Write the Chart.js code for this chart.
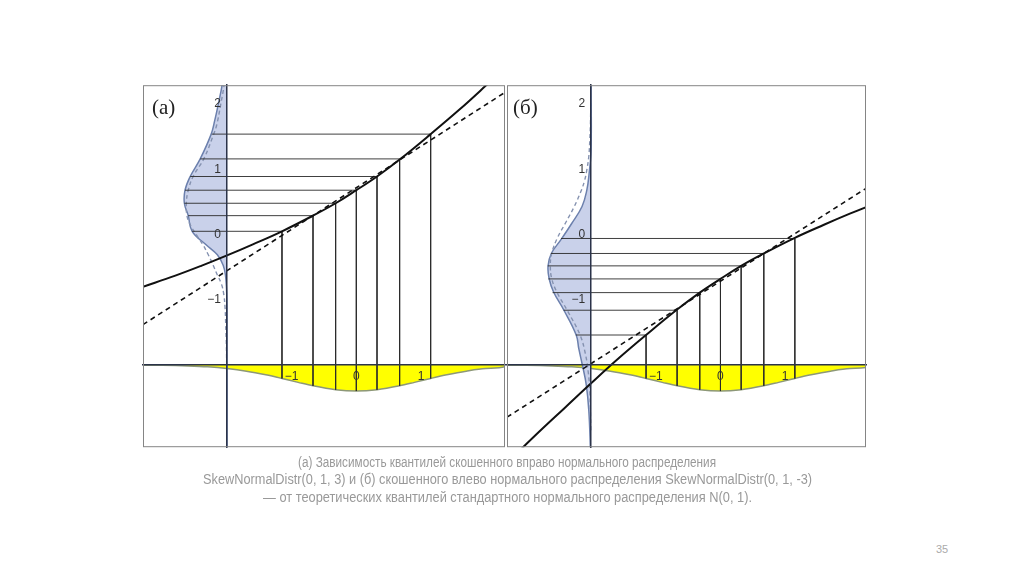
<!DOCTYPE html>
<html>
<head>
<meta charset="utf-8">
<script src="https://cdn.jsdelivr.net/npm/chart.js@4.4.0/dist/chart.umd.min.js"></script>
<style>
body { margin: 0; background: #fff; width: 1024px; height: 576px; position: relative; overflow: hidden; }
canvas { position: absolute; }
.panelLabel { position: absolute; top: 97px; font-family: "Liberation Serif", "Times New Roman", serif; font-size: 21px; line-height: 21px; color: #222; }
.capLine { position: absolute; white-space: nowrap; font-family: "Liberation Sans", Arial, sans-serif; font-size: 14px; line-height: 17px; color: #999; transform-origin: 0 0; }
.pageNum { position: absolute; left: 936px; top: 543px; font-family: "Liberation Sans", Arial, sans-serif; font-size: 11px; color: #aaa; }
</style>
</head>
<body>
<canvas id="chartA" width="364" height="362"></canvas>
<canvas id="chartB" width="361" height="362"></canvas>
<div class="panelLabel" style="left:152px">(а)</div>
<div class="panelLabel" style="left:513px">(б)</div>
<div class="capLine" id="cap1">(а) Зависимость квантилей скошенного вправо нормального распределения</div>
<div class="capLine" id="cap2">SkewNormalDistr(0, 1, 3) и (б) скошенного влево нормального распределения SkewNormalDistr(0, 1, -3)</div>
<div class="capLine" id="cap3">— от теоретических квантилей стандартного нормального распределения N(0, 1).</div>
<div class="pageNum">35</div>
<script>
// axes cross at (-2, -2) in both panels
var AXIS = -2;
var xTicks = [-1, 0, 1];
var yTicks = [-1, 0, 1, 2];

// theoretical quantiles of N(0, 1) (octiles) and the N(0,1) density there
var quantX = [-1.15, -0.67, -0.32, 0, 0.32, 0.67, 1.15];
var quantPdf = [0.206, 0.319, 0.379, 0.399, 0.379, 0.319, 0.206];

// sample quantiles, panel (а) and (б)
var quantYA = [0.05, 0.29, 0.48, 0.68, 0.89, 1.16, 1.54];
var quantYB = [-1.54, -1.16, -0.89, -0.68, -0.48, -0.29, -0.06];
// left ends of the horizontal lines (where they meet the skewed density)
var hLeftA = [-2.54, -2.6, -2.66, -2.65, -2.57, -2.415, -2.235];
var hLeftB = [-2.235, -2.425, -2.595, -2.66, -2.67, -2.62, -2.465];

// Q-Q curves
var curveXA = [-3.3, -2.8, -2.4, -2.0, -1.6, -1.15, -0.67, -0.32, 0, 0.32, 0.67, 1.15, 1.6, 2.0, 2.4];
var curveYA = [-0.80, -0.63, -0.48, -0.32, -0.15, 0.05, 0.29, 0.48, 0.68, 0.89, 1.15, 1.54, 1.92, 2.28, 2.65];
var curveXB = [-3.3, -2.8, -2.4, -2.0, -1.6, -1.15, -0.67, -0.32, 0, 0.32, 0.67, 1.15, 1.6, 2.0, 2.4];
var curveYB = [-3.5, -3.02, -2.65, -2.28, -1.92, -1.54, -1.15, -0.89, -0.68, -0.48, -0.29, -0.05, 0.15, 0.32, 0.48];

// dashed reference lines
var refXA = [-3.3, 2.3];
var refYA = [-1.38, 2.18];
var refXB = [-3.3, 2.3];
var refYB = [-2.8, 0.74];

// skew-normal densities drawn sideways (value = width to the left of the axis)
var densYA = [-3.3, -1.3, -0.9, -0.62, -0.47, -0.31, -0.16, 0.05, 0.29, 0.48, 0.68, 0.89, 1.16, 1.54, 1.75, 2.0, 2.3, 2.6];
var densFA = [0, 0, 0.005, 0.025, 0.06, 0.15, 0.32, 0.54, 0.60, 0.66, 0.65, 0.57, 0.415, 0.245, 0.19, 0.135, 0.075, 0.04];
var densYB = [-3.5, -3.3, -2.7, -2.3, -2.0, -1.75, -1.54, -1.16, -0.88, -0.67, -0.48, -0.29, -0.07, 0.17, 0.43, 0.68, 0.94, 1.3, 2.3];
var densFB = [0.005, 0.01, 0.035, 0.075, 0.135, 0.19, 0.23, 0.42, 0.58, 0.65, 0.665, 0.615, 0.46, 0.30, 0.14, 0.066, 0.03, 0, 0];

// fitted normal densities (dashed), same layout
var dashYA = [-2.0, -1.7, -1.39, -1.13, -0.92, -0.76, -0.62, -0.47, -0.31, -0.16, -0.01, 0.15, 0.29, 0.48, 0.68, 0.9, 1.16, 1.53, 1.68, 2.0, 2.3, 2.6];
var dashFA = [0.005, 0.01, 0.02, 0.03, 0.05, 0.086, 0.15, 0.215, 0.29, 0.37, 0.47, 0.57, 0.62, 0.63, 0.60, 0.52, 0.36, 0.21, 0.16, 0.097, 0.045, 0.02];
var dashYB = [-3.0, -2.4, -2.1, -1.82, -1.54, -1.16, -0.88, -0.67, -0.48, -0.29, -0.05, 0.17, 0.43, 0.68, 0.83, 0.99, 1.2, 1.45, 1.7, 2.0, 2.4];
var dashFB = [0.005, 0.02, 0.045, 0.09, 0.17, 0.37, 0.53, 0.61, 0.63, 0.61, 0.52, 0.40, 0.26, 0.15, 0.10, 0.066, 0.035, 0.02, 0.01, 0.005, 0];

// standard normal density hanging under the horizontal axis
var yelX = [-3.3, -3.0, -2.6, -2.3, -2.0, -1.7, -1.4, -1.15, -0.9, -0.67, -0.32, 0, 0.32, 0.67, 0.9, 1.15, 1.4, 1.7, 2.0, 2.3, 2.6];
var yelPdf = [0.002, 0.004, 0.014, 0.028, 0.054, 0.094, 0.15, 0.206, 0.266, 0.319, 0.379, 0.399, 0.379, 0.319, 0.266, 0.206, 0.15, 0.094, 0.054, 0.028, 0.014];

function toPoints(xs, ys) {
    return xs.map(function (x, i) { return { x: x, y: ys[i] }; });
}

// density given as (y, width) -> points left of the vertical axis
function sideways(ys, fs, closed) {
    var pts = ys.map(function (y, i) { return { x: AXIS - fs[i], y: y }; });
    if (closed) {
        pts.unshift({ x: AXIS, y: ys[0] });
        pts.push({ x: AXIS, y: ys[ys.length - 1] });
    }
    return pts;
}

function tickLabel(v) {
    return v < 0 ? '\u2212' + Math.abs(v) : String(v);
}

// a y axis placed at a value ignores ticks.padding, so keep the gap with an en space
function yTickLabel(v) {
    return tickLabel(v) + '\u2002';
}

var framePlugin = {
    id: 'frame',
    afterDraw: function (chart) {
        var a = chart.chartArea;
        var ctx = chart.ctx;
        ctx.save();
        ctx.strokeStyle = '#858585';
        ctx.lineWidth = 1;
        ctx.strokeRect(a.left + 0.5, a.top + 0.5, a.right - a.left - 1, a.bottom - a.top - 1);
        ctx.restore();
    }
};

var tickFont = { family: 'Liberation Sans, Arial, sans-serif', size: 12 };

function buildPanel(canvasId, p) {
    var datasets = [];

    datasets.push({ data: toPoints(p.curveX, p.curveY), borderColor: '#111', borderWidth: 2, tension: 0.4 });
    datasets.push({ data: toPoints(p.refX, p.refY), borderColor: '#111', borderWidth: 1.6, borderDash: [5, 4] });

    for (var i = 0; i < quantX.length; i++) {
        datasets.push({
            data: [
                { x: p.hLeft[i], y: p.quantY[i] },
                { x: quantX[i], y: p.quantY[i] },
                { x: quantX[i], y: AXIS - quantPdf[i] }
            ],
            borderColor: '#2a2a2a', borderWidth: 0.9, tension: 0
        });
    }

    datasets.push({ data: sideways(p.dashY, p.dashF, false), borderColor: '#8592b0', borderWidth: 1.4, borderDash: [4, 3], tension: 0.4 });
    datasets.push({ data: sideways(p.densY, p.densF, true), fill: 'shape', backgroundColor: '#c9d1ea', borderColor: '#6c80ad', borderWidth: 1.5, tension: 0.4 });
    datasets.push({
        data: toPoints(yelX, yelPdf.map(function (v) { return AXIS - v; })),
        fill: { value: AXIS }, backgroundColor: '#ffff00', borderColor: '#8d9878', borderWidth: 1.5,
        cubicInterpolationMode: 'monotone'
    });

    var canvas = document.getElementById(canvasId);
    var chart = new Chart(canvas.getContext('2d'), {
        type: 'scatter',
        data: { datasets: datasets },
        options: {
            responsive: false,
            maintainAspectRatio: false,
            animation: false,
            events: [],
            showLine: true,
            layout: { padding: 0 },
            elements: { point: { radius: 0 } },
            plugins: { legend: { display: false }, tooltip: { enabled: false } },
            scales: {
                x: {
                    type: 'linear', min: p.xMin, max: p.xMax, position: { y: AXIS },
                    grid: { display: false, drawTicks: false },
                    border: { color: '#2b3349', width: 1.5, z: 1 },
                    afterBuildTicks: function (axis) { axis.ticks = xTicks.map(function (v) { return { value: v }; }); },
                    ticks: { z: 2, padding: 4, color: '#333', font: tickFont, callback: tickLabel }
                },
                y: {
                    type: 'linear', min: -3.26, max: 2.29, position: { x: AXIS },
                    grid: { display: false, drawTicks: false },
                    border: { color: '#2b3349', width: 1.5, z: 1 },
                    afterBuildTicks: function (axis) { axis.ticks = yTicks.map(function (v) { return { value: v }; }); },
                    ticks: { z: 2, color: '#333', font: tickFont, callback: yTickLabel }
                }
            }
        },
        plugins: [framePlugin]
    });

    // grow the canvas so that the plot area itself is the framed box, then place it
    var a = chart.chartArea;
    var padW = chart.width - (a.right - a.left);
    var padH = chart.height - (a.bottom - a.top);
    chart.resize(p.frame.w + padW, p.frame.h + padH);
    a = chart.chartArea;
    canvas.style.left = (p.frame.left - a.left) + 'px';
    canvas.style.top = (p.frame.top - a.top) + 'px';
    return chart;
}

buildPanel('chartA', {
    xMin: -3.3, xMax: 2.3, frame: { left: 143, top: 85, w: 364, h: 362 },
    curveX: curveXA, curveY: curveYA, refX: refXA, refY: refYA,
    quantY: quantYA, hLeft: hLeftA,
    densY: densYA, densF: densFA, dashY: dashYA, dashF: dashFA
});

buildPanel('chartB', {
    xMin: -3.3, xMax: 2.25, frame: { left: 507, top: 85, w: 361, h: 362 },
    curveX: curveXB, curveY: curveYB, refX: refXB, refY: refYB,
    quantY: quantYB, hLeft: hLeftB,
    densY: densYB, densF: densFB, dashY: dashYB, dashF: dashFB
});

// caption lines: narrow them to the widths they have in the slide
var capLines = [
    { id: 'cap1', left: 298, width: 418, top: 454 },
    { id: 'cap2', left: 203, width: 609, top: 471 },
    { id: 'cap3', left: 263, width: 489, top: 489 }
];
capLines.forEach(function (c) {
    var el = document.getElementById(c.id);
    var natural = el.getBoundingClientRect().width;
    el.style.left = c.left + 'px';
    el.style.top = c.top + 'px';
    el.style.transform = 'scaleX(' + (c.width / natural) + ')';
});
</script>
</body>
</html>
